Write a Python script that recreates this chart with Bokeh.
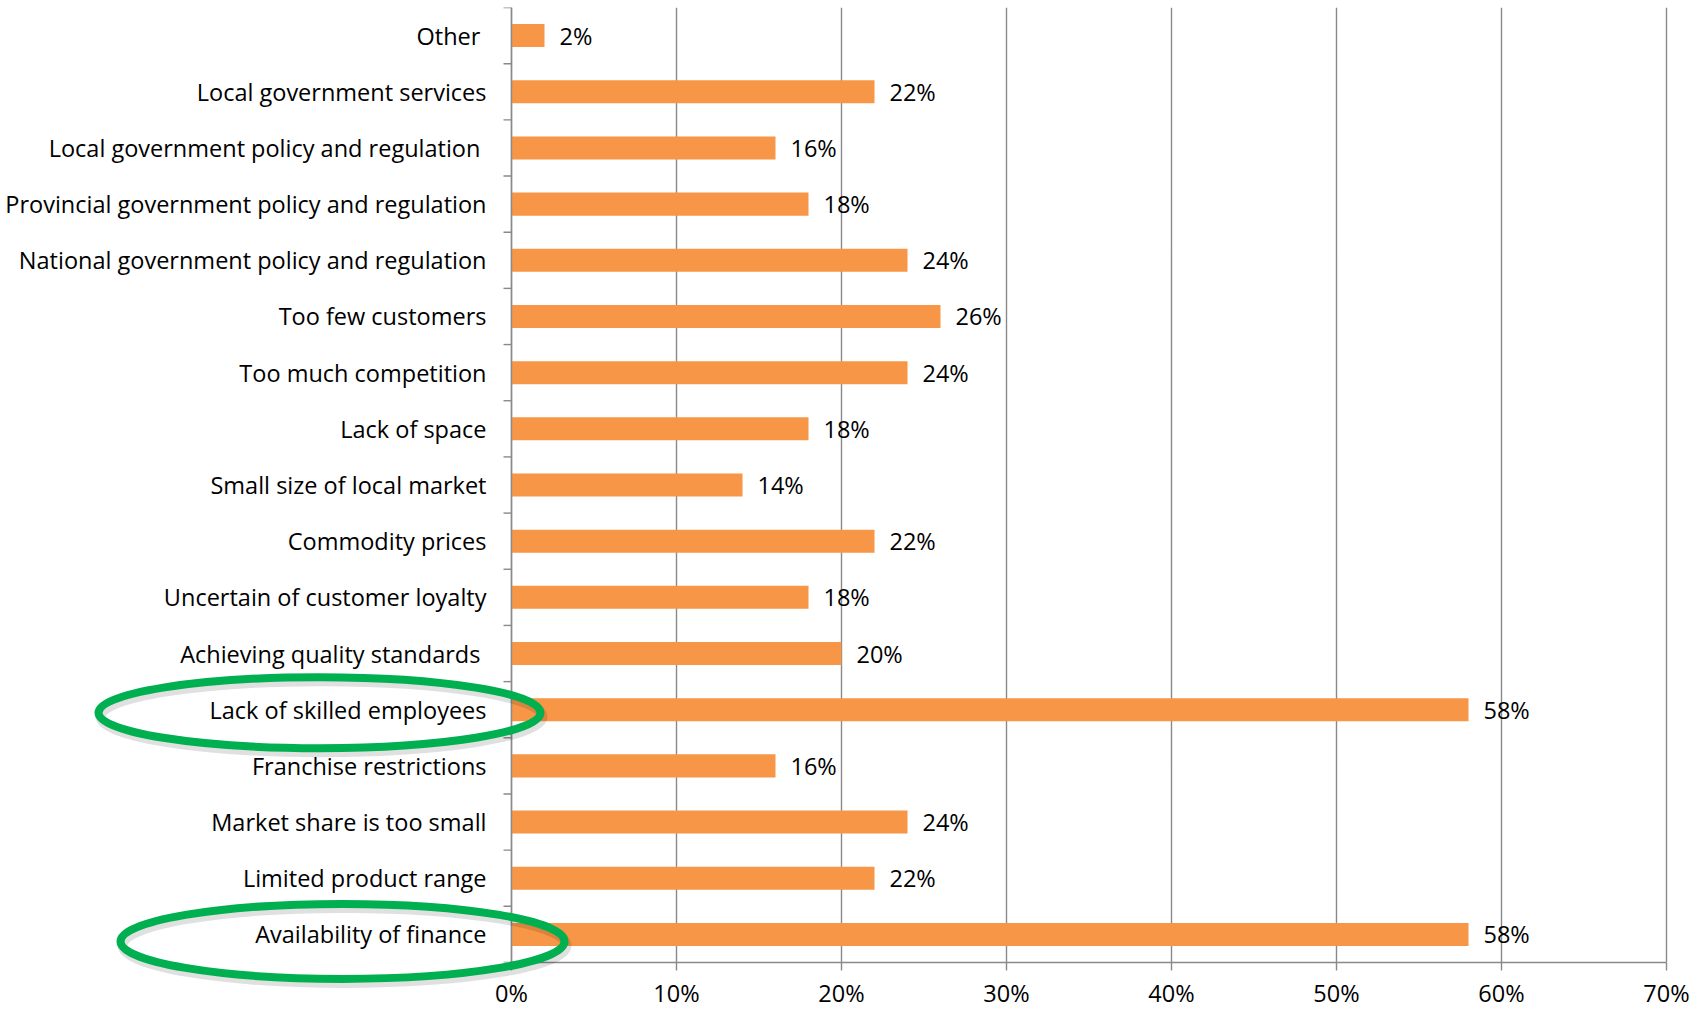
from bokeh.plotting import figure
from bokeh.models import ColumnDataSource, FixedTicker, PrintfTickFormatter, Range1d, Span
from bokeh.core.properties import value
from bokeh.embed import file_html
from bokeh.resources import INLINE

# ---------------- data ----------------
categories = [
    "Other ",
    "Local government services",
    "Local government policy and regulation ",
    "Provincial government policy and regulation",
    "National government policy and regulation",
    "Too few customers",
    "Too much competition",
    "Lack of space",
    "Small size of local market",
    "Commodity prices",
    "Uncertain of customer loyalty",
    "Achieving quality standards ",
    "Lack of skilled employees",
    "Franchise restrictions",
    "Market share is too small",
    "Limited product range",
    "Availability of finance",
]
percent = [2, 22, 16, 18, 24, 26, 24, 18, 14, 22, 18, 20, 58, 16, 24, 22, 58]
x_ticks = [0, 10, 20, 30, 40, 50, 60, 70]
highlighted = ["Lack of skilled employees", "Availability of finance"]

# ---------------- layout / style ----------------
FIG_W, FIG_H = 1700, 1011
BORDER_T, BORDER_R, BORDER_B = 7, 30, 47
AXIS_PX = 511            # x position (in figure px) of the 0% line
PX_PER = 16.5            # pixels per percentage point
FRAME_W = FIG_W - BORDER_R
FRAME_H = FIG_H - BORDER_B - BORDER_T
n = len(categories)
ROW_PX = FRAME_H / n

FONT = value("Open Sans")
FS = "23.5px"
ORANGE = "#F79646"
GREY = "#898989"
GREEN = "#00B050"

x_start = -AXIS_PX / PX_PER
x_end = (FRAME_W - AXIS_PX) / PX_PER

pos = [n - 1 - i for i in range(n)]
src = ColumnDataSource(dict(
    cat=categories,
    pos=pos,
    val=percent,
    lab=[f"{v}%" for v in percent],
))

p = figure(
    width=FIG_W, height=FIG_H,
    x_range=Range1d(x_start, x_end),
    y_range=Range1d(-0.5, n - 0.5),
    y_axis_location=None,
    toolbar_location=None,
    output_backend="svg",
    min_border_left=0, min_border_right=BORDER_R,
    min_border_top=BORDER_T, min_border_bottom=BORDER_B,
)
p.outline_line_color = None
p.background_fill_color = "white"
p.border_fill_color = "white"

# grid
p.xgrid.ticker = FixedTicker(ticks=x_ticks)
p.xgrid.grid_line_color = GREY
p.xgrid.grid_line_width = 1.4
p.ygrid.grid_line_color = None

# x axis
ax = p.xaxis[0]
ax.ticker = FixedTicker(ticks=x_ticks)
ax.formatter = PrintfTickFormatter(format="%d%%")
ax.bounds = (x_ticks[0], x_ticks[-1])
ax.axis_line_color = GREY
ax.axis_line_width = 1.4
ax.major_tick_line_color = GREY
ax.major_tick_line_width = 1.4
ax.major_tick_out = 8
ax.major_tick_in = 0
ax.minor_tick_line_color = None
ax.major_label_standoff = 6
ax.major_label_text_font = "Open Sans"
ax.major_label_text_font_size = FS
ax.major_label_text_color = "#000000"

# vertical category axis line + boundary ticks
p.add_layout(Span(location=0, dimension="height", line_color=GREY, line_width=1.4))
tick_len = 8 / PX_PER
bounds_y = [k - 0.5 for k in range(n + 1)]
p.segment(x0=[-tick_len] * len(bounds_y), x1=[0] * len(bounds_y),
          y0=bounds_y, y1=bounds_y, line_color=GREY, line_width=1.4)

# bars
p.hbar(y="pos", left=0, right="val", height=0.41, source=src,
       fill_color=ORANGE, line_color=None)

# value labels
p.text(x="val", y="pos", text="lab", source=src, x_offset=15,
       text_align="left", text_baseline="middle",
       text_font=FONT, text_font_size=FS, text_color="#000000")

# category labels
p.text(x=0, y="pos", text="cat", source=src, x_offset=-25,
       text_align="right", text_baseline="middle",
       text_font=FONT, text_font_size=FS, text_color="#000000")

# highlight ellipses (with soft shadow)
hl_dx = [-192, -169]
hl_dy = [3, 7]
hl_w = [442, 444]
hl_h = [71, 75]
hl_y = [pos[categories.index(c)] - dy / ROW_PX for c, dy in zip(highlighted, hl_dy)]
shadow = ColumnDataSource(dict(
    x=[(dx + 2) / PX_PER for dx in hl_dx],
    y=[y - 4 / ROW_PX for y in hl_y],
    w=hl_w, h=hl_h))
ring = ColumnDataSource(dict(
    x=[dx / PX_PER for dx in hl_dx], y=hl_y, w=hl_w, h=hl_h))
p.ellipse(x="x", y="y", width="w", height="h", source=shadow,
          width_units="screen", height_units="screen",
          fill_color=None, line_color="#000000", line_alpha=0.12, line_width=10,
          level="overlay")
p.ellipse(x="x", y="y", width="w", height="h", source=ring,
          width_units="screen", height_units="screen",
          fill_color=None, line_color=GREEN, line_width=8, level="overlay")

open("out.html", "w").write(file_html(p, INLINE))
